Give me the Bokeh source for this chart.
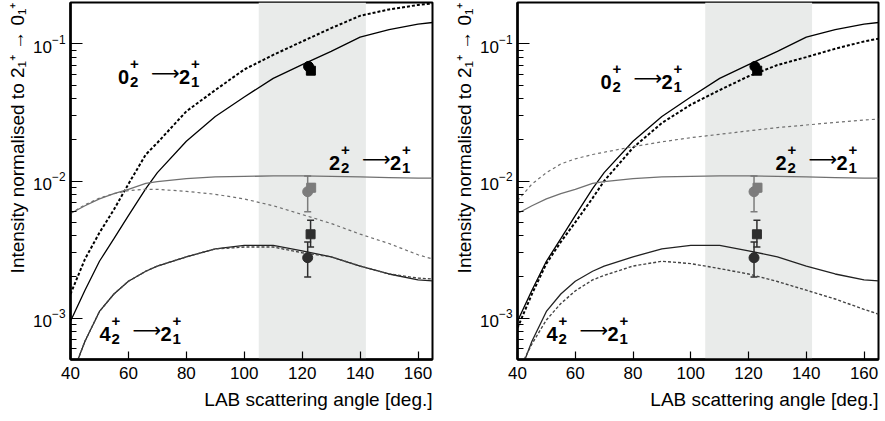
from bokeh.plotting import figure
from bokeh.layouts import row
from bokeh.models import Label, BoxAnnotation, Whisker, ColumnDataSource, TeeHead, Title
from bokeh.embed import file_html
from bokeh.resources import INLINE

# LAB scattering angle grid (deg.) on which the calculations are tabulated
angle = [40, 45, 50, 55, 60, 66, 70, 80, 90, 100, 110, 120, 130, 140, 150, 160, 165]

# 0+_2 -> 2+_1 calculations
o2_solid = [0.00095, 0.0016, 0.0026, 0.0038, 0.0056, 0.0088, 0.0115, 0.0195, 0.0295,
            0.041, 0.056, 0.0705, 0.088, 0.112, 0.127, 0.139, 0.143]
o2_dash_left = [0.0015, 0.0027, 0.0042, 0.0062, 0.0095, 0.0156, 0.019, 0.0322, 0.046,
                0.0650, 0.083, 0.104, 0.130, 0.160, 0.178, 0.192, 0.197]
o2_dash_right = [0.00085, 0.0015, 0.0025, 0.0036, 0.0050, 0.0075, 0.0100, 0.0175, 0.0265,
                 0.036, 0.046, 0.058, 0.070, 0.080, 0.092, 0.104, 0.109]

# 2+_2 -> 2+_1 calculations
s2_solid = [0.0058, 0.0066, 0.0074, 0.0081, 0.0087, 0.0096, 0.0099, 0.0104, 0.0107,
            0.0108, 0.0109, 0.0109, 0.0108, 0.0107, 0.0106, 0.0105, 0.0105]
s2_dash_left = [0.0058, 0.0067, 0.0075, 0.0081, 0.0085, 0.0087, 0.0087, 0.0084, 0.0080,
                0.0074, 0.0066, 0.0057, 0.0049, 0.0041, 0.0035, 0.0029, 0.0027]
s2_dash_right = [0.0072, 0.0095, 0.0115, 0.0133, 0.0145, 0.0156, 0.0162, 0.0178, 0.0193,
                 0.0207, 0.0219, 0.0232, 0.0245, 0.0256, 0.0267, 0.0278, 0.0283]

# 4+_2 -> 2+_1 calculations
f2_solid = [0.00036, 0.00068, 0.00112, 0.0015, 0.00186, 0.0022, 0.0024, 0.0028, 0.0032,
            0.0034, 0.0034, 0.0031, 0.0028, 0.0024, 0.0021, 0.0019, 0.00187]
f2_dash_left = [0.00036, 0.00068, 0.00112, 0.0015, 0.00186, 0.0022, 0.0024, 0.0028, 0.0032,
                0.0033, 0.0033, 0.0030, 0.0028, 0.0024, 0.0021, 0.00196, 0.00193]
f2_dash_right = [0.0004, 0.00065, 0.00097, 0.00128, 0.00158, 0.0019, 0.00205, 0.0024, 0.0026,
                 0.0025, 0.0023, 0.0021, 0.00185, 0.0016, 0.00138, 0.00116, 0.00107]

# measured intensities (0+_2, 2+_2, 4+_2)
circ_angle = [122.2, 121.9, 121.9]
circ_int = [0.0684, 0.00836, 0.00276]
circ_lo = [0.0684, 0.00598, 0.0020]
circ_hi = [0.0684, 0.01087, 0.00359]
sq_angle = [123.0, 123.1, 122.9]
sq_int = [0.0637, 0.00894, 0.00409]
sq_lo = [0.0637, 0.00836, 0.0033]
sq_hi = [0.0637, 0.00956, 0.00518]
point_colors = ["black", "#7c7c7c", "#2e2e2e"]

# angular coverage of the detector
cover_lo, cover_hi = 105, 142

x_ticks = [40, 60, 80, 100, 120, 140, 160]
x_title = "LAB scattering angle [deg.]"
y_title = "Intensity normalised to 2\u2081\u207a \u2192 0\u2081\u207a"
FONT = "Liberation Sans"
GREY = "#707070"


def text(p, x, y, txt, dx, dy, size, style="bold", font=FONT):
    p.add_layout(Label(x=x, y=y, x_offset=dx, y_offset=dy, text=txt,
                       text_font=font, text_font_size=size, text_font_style=style,
                       text_color="black", text_align="left", text_baseline="alphabetic"))


def transition(p, x, y, a, a_sub, b, b_sub):
    # bold level labels with stacked spin-parity / index
    text(p, x, y, a, 0, 0, "20px")
    text(p, x, y, "+", 12, 13, "15px")
    text(p, x, y, a_sub, 12, -5, "15px")
    text(p, x, y, "\u27f6", 33, 4, "20px", "normal", "DejaVu Sans")
    text(p, x, y, b, 61, 0, "20px")
    text(p, x, y, "+", 73, 13, "15px")
    text(p, x, y, b_sub, 73, -5, "15px")


def panel(width, border_left, border_right, o2_dash, s2_dash, f2_dash, o2_label_pos):
    p = figure(width=width, height=421, y_axis_type="log",
               x_range=(40, 165), y_range=(5e-4, 0.2),
               output_backend="svg", toolbar_location=None,
               min_border_left=border_left, min_border_right=border_right,
               min_border_top=2, min_border_bottom=62)
    p.xgrid.visible = False
    p.ygrid.visible = False
    p.outline_line_color = "black"
    p.outline_line_width = 2
    p.outline_line_alpha = 1

    p.add_layout(BoxAnnotation(left=cover_lo, right=cover_hi, fill_color="#e9ebea",
                               fill_alpha=1, line_alpha=0, level="underlay"))

    # calculations
    p.line(angle, o2_solid, line_color="black", line_width=1.3)
    p.line(angle, o2_dash, line_color="black", line_width=2, line_dash="3 2")
    p.line(angle, s2_solid, line_color=GREY, line_width=1.3)
    p.line(angle, s2_dash, line_color=GREY, line_width=1.2, line_dash="3 3")
    p.line(angle, f2_solid, line_color="#222222", line_width=1.3)
    p.line(angle, f2_dash, line_color="#444444", line_width=1.4, line_dash="3 2")

    # measured points with error bars
    for i in (1, 2):
        src = ColumnDataSource(dict(x=[circ_angle[i], sq_angle[i]],
                                    lo=[circ_lo[i], sq_lo[i]],
                                    hi=[circ_hi[i], sq_hi[i]]))
        p.add_layout(Whisker(base="x", lower="lo", upper="hi", source=src,
                             line_color=point_colors[i], line_width=1.5,
                             upper_head=TeeHead(size=7, line_color=point_colors[i], line_width=1.5),
                             lower_head=TeeHead(size=7, line_color=point_colors[i], line_width=1.5)))
    p.scatter(circ_angle, circ_int, marker="circle", size=10,
              fill_color=point_colors, line_color=point_colors)
    p.scatter(sq_angle, sq_int, marker="square", size=9,
              fill_color=point_colors, line_color=point_colors)

    transition(p, o2_label_pos[0], o2_label_pos[1], "0", "2", "2", "1")
    transition(p, 129.3, 0.0135, "2", "2", "2", "1")
    transition(p, 50.0, 0.00077, "4", "2", "2", "1")

    # axes
    for ax in (p.xaxis[0], p.yaxis[0]):
        ax.axis_line_width = 2.5
        ax.axis_line_color = "black"
        ax.major_tick_line_color = "black"
        ax.major_tick_line_width = 1.2
        ax.major_tick_out = 0
        ax.major_label_text_font = FONT
        ax.major_label_text_font_size = "17px"
        ax.major_label_text_color = "black"
    p.xaxis.ticker = x_ticks
    p.xaxis.major_tick_in = 8
    p.xaxis.minor_tick_line_color = None
    p.xaxis.major_label_standoff = 7
    p.yaxis.major_tick_in = 12
    p.yaxis.minor_tick_in = 6
    p.yaxis.minor_tick_out = 0
    p.yaxis.minor_tick_line_color = "black"
    p.yaxis.major_label_standoff = 5

    # axis titles, flush with the right / top end of the frame
    p.add_layout(Title(text=x_title, align="right", text_font=FONT, text_font_size="19px",
                       text_font_style="normal", text_color="black", standoff=10), "below")
    p.add_layout(Title(text=y_title, align="right", text_font=FONT, text_font_size="19px",
                       text_font_style="normal", text_color="black", standoff=6), "left")
    return p


left = panel(440, 70, 8, o2_dash_left, s2_dash_left, f2_dash_left, (56.4, 0.057))
right = panel(445, 77, 7, o2_dash_right, s2_dash_right, f2_dash_right, (68.7, 0.053))

layout = row(left, right)
open("out.html", "w").write(file_html(layout, INLINE))
